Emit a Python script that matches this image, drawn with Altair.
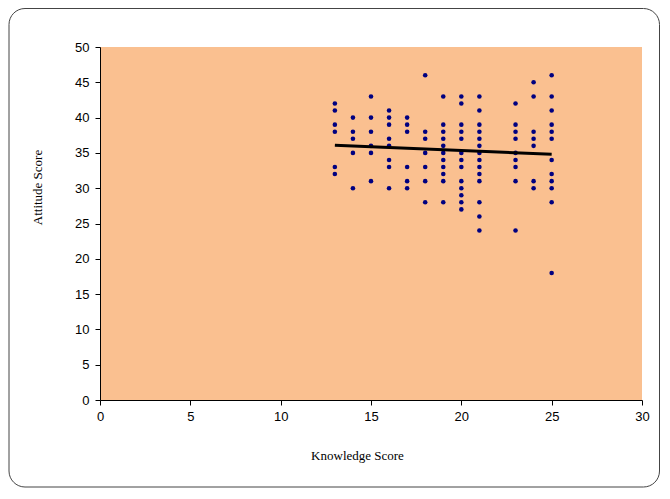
import altair as alt
import pandas as pd

# Knowledge score columns and the attitude scores read at each
k13 = [42, 41, 39, 38, 33, 32]
k14 = [40, 38, 37, 35, 30]
k15 = [43, 40, 38, 36, 35, 31]
k16 = [41, 40, 39, 37, 36, 34, 33, 30]
k17 = [40, 39, 38, 33, 31, 30]
k18 = [46, 38, 37, 35, 33, 31, 28]
k19 = [43, 39, 38, 37, 36, 35, 34, 33, 32, 31, 28]
k20 = [43, 42, 39, 38, 37, 35, 34, 33, 31, 30, 29, 28, 27]
k21 = [43, 41, 39, 38, 37, 36, 35, 34, 33, 32, 31, 28, 26, 24]
k23 = [42, 39, 38, 37, 35, 34, 33, 31, 24]
k24 = [45, 43, 38, 37, 36, 31, 30]
k25 = [46, 43, 41, 39, 38, 37, 34, 32, 31, 30, 28, 18]

# Trend line end points
trend_x = [13, 25]
trend_y = [36.1, 34.8]

x_ticks = [0, 5, 10, 15, 20, 25, 30]
y_ticks = [0, 5, 10, 15, 20, 25, 30, 35, 40, 45, 50]

columns = {13: k13, 14: k14, 15: k15, 16: k16, 17: k17, 18: k18,
           19: k19, 20: k20, 21: k21, 23: k23, 24: k24, 25: k25}

knowledge = []
attitude = []
for kx, vals in columns.items():
    for v in vals:
        knowledge.append(kx)
        attitude.append(v)

df = pd.DataFrame({"Knowledge": knowledge, "Attitude": attitude})
trend = pd.DataFrame({"Knowledge": trend_x, "Attitude": trend_y})

x_enc = alt.X("Knowledge:Q", title="Knowledge Score",
              scale=alt.Scale(domain=[0, 30], nice=False, zero=False),
              axis=alt.Axis(values=x_ticks, titleX=257, titleY=55,
                            titleBaseline="middle", labelFlush=False,
                            labelOverlap=False))
y_enc = alt.Y("Attitude:Q", title="Attitude Score",
              scale=alt.Scale(domain=[0, 50], nice=False),
              axis=alt.Axis(values=y_ticks, titleX=-63, titleY=140,
                            titleBaseline="middle", labelFlush=False,
                            labelOverlap=False))

points = alt.Chart(df).mark_circle(size=21, color="#000080", opacity=1).encode(
    x=x_enc, y=y_enc
)

line = alt.Chart(trend).mark_line(
    color="black", strokeWidth=3
).encode(x=x_enc, y=y_enc)

border = alt.Chart(pd.DataFrame({"a": [0]})).mark_rect(
    fill="transparent", stroke="#444444", strokeWidth=1, cornerRadius=16
).encode(
    x=alt.value(-91), x2=alt.value(559.5),
    y=alt.value(-38.5), y2=alt.value(440)
)

chart = alt.layer(border, points, line).properties(
    width=542, height=353,
    autosize=alt.AutoSizeParams(type="none"),
    padding={"left": 92, "top": 39, "right": 18, "bottom": 88},
    background="white",
).configure_view(
    fill="#FAC090", stroke=None
).configure_axis(
    grid=False,
    domainColor="black",
    tickColor="black",
    tickSize=5,
    labelColor="black",
    labelFont="Liberation Sans",
    labelFontSize=13,
    labelOverlap=False,
    titleFont="Liberation Serif",
    titleFontSize=13,
    titleFontWeight="normal",
    titleColor="black",
    labelPadding=5,
).configure_axisY(labelPadding=6)

chart.save("out.html", embed_options={"renderer": "svg", "actions": False})
